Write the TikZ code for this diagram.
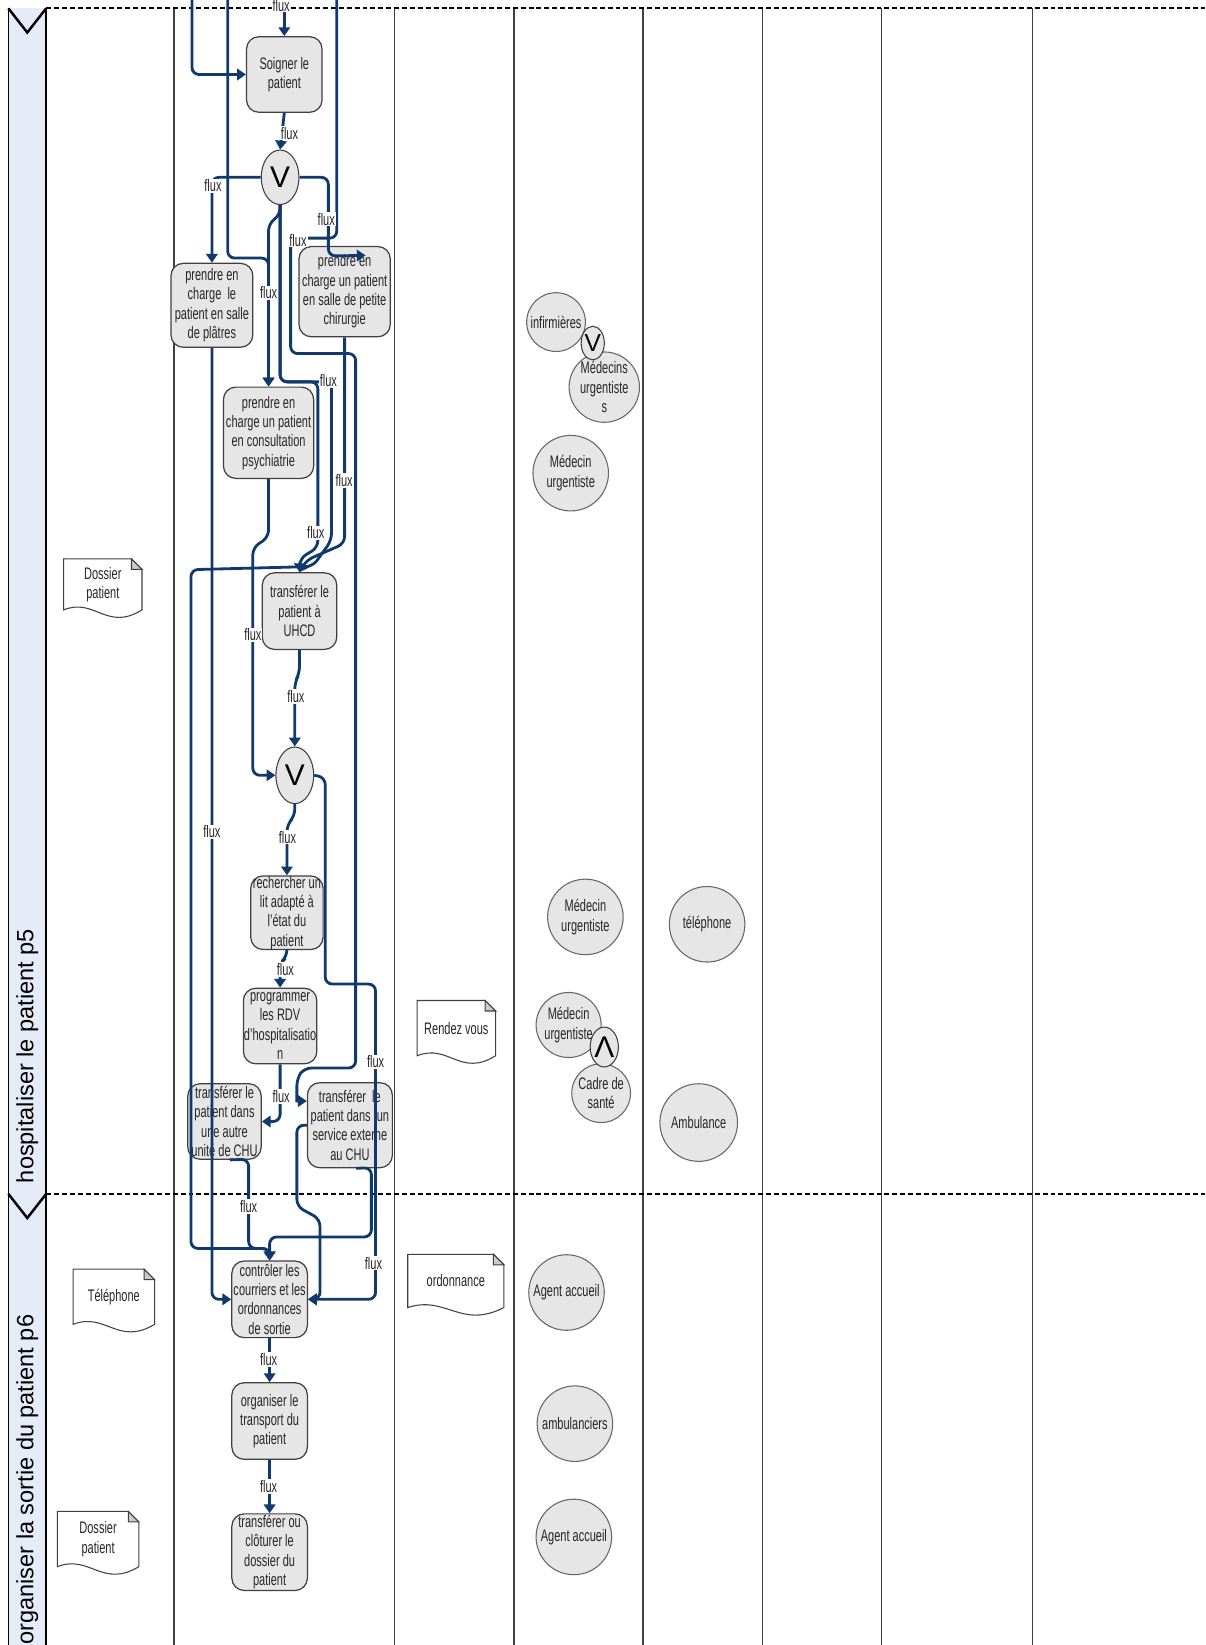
\documentclass[tikz,border=0pt]{standalone}
\usepackage{fontspec}
\setmainfont{Liberation Sans}[FakeStretch=0.66]
\newfontfamily\poolfont{Liberation Sans}
\usetikzlibrary{arrows.meta,calc,shapes.geometric}

\def\unitpx{0.020974cm}
\definecolor{flowblue}{HTML}{10396C}
\definecolor{taskgray}{HTML}{E6E6E6}
\definecolor{bargray}{HTML}{E6ECF7}
\definecolor{edgegray}{HTML}{404040}

\tikzset{
  txt/.style={font=\fontsize{9.5}{11}\selectfont, text=black!85},
  task/.style 2 args={txt, draw=edgegray, line width=0.7pt, fill=taskgray, rounded corners=7pt, align=center, inner sep=0pt, minimum width=#1*\unitpx, minimum height=#2*\unitpx},
  actor/.style={txt, draw=edgegray!80, line width=0.6pt, fill=taskgray, circle, align=center, inner sep=0pt, minimum size=#1*\unitpx},
  gate/.style 2 args={draw=edgegray, line width=0.6pt, fill=taskgray, ellipse, inner sep=0pt, minimum width=#1*\unitpx, minimum height=#2*\unitpx, font=\poolfont\fontsize{17}{17}\selectfont},
  docbox/.style 2 args={txt, align=center, inner sep=0pt, minimum width=#1*\unitpx, minimum height=#2*\unitpx},
  flow/.style={draw=flowblue, line width=1.6pt, rounded corners=4pt, -{Triangle[length=5pt,width=6.5pt]}},
  flux/.style={txt, fill=white, inner sep=0.6pt},
  lane/.style={draw=edgegray, line width=0.8pt},
  poolsep/.style={black, line width=1.1pt, dash pattern=on 2.8pt off 1.7pt},
  poolname/.style={font=\poolfont\fontsize{13.4}{14}\selectfont, rotate=90, anchor=west, inner sep=0pt},
}

\newcommand\docshape[1]{%
  \draw[edgegray, line width=0.6pt] (#1.north west) -- ($(#1.north east)+(-10,0)$) -- ($(#1.north east)+(0,10)$) -- (#1.south east)
    .. controls ($(#1.south west)!0.55!(#1.south east)+(0,21)$) and ($(#1.south west)!0.4!(#1.south east)+(0,-12)$) .. (#1.south west) -- cycle;
  \filldraw[fill=gray!40, draw=edgegray, line width=0.6pt] ($(#1.north east)+(-10,0)$) -- ($(#1.north east)+(0,10)$) -- ($(#1.north east)+(-10,10)$) -- cycle;
}

\begin{document}
\begin{tikzpicture}[x=\unitpx, y=-\unitpx]
\useasboundingbox (0,0) rectangle (1149,1568);

% couloirs
\fill[bargray] (8,8) rectangle (44,1568);
\draw[black, line width=0.8pt] (8,8) -- (8,1568) (44,8) -- (44,1568);
\foreach \lx in {166,376,490,613,727,840,984}
  \draw[lane] (\lx,8) -- (\lx,1568);
\draw[poolsep] (44,8) -- (1149,8);
\draw[poolsep] (44,1138) -- (1149,1138);
\draw[black, line width=1.4pt] (8,8) -- (26,31) -- (44,8);
\draw[black, line width=1.4pt] (8,1138) -- (26,1161) -- (44,1138);
\node[poolname] (pool5) at (26,1128) {hospitaliser le patient p5};
\node[poolname] (pool6) at (26,1568) {organiser la sortie du patient p6};

% activites
\node[task={72}{72}] (soin) at (271,71) {Soigner le\\patient};
\node[gate={36}{52}] (V1) at (267,169) {V};
\node[task={78}{80}] (plat) at (202,291) {prendre en\\charge\ \ le\\patient en salle\\de plâtres};
\node[task={87}{86}] (chir) at (328.5,278) {prendre en\\charge un patient\\en salle de petite\\chirurgie};
\node[task={86}{87}] (psy) at (256,412.5) {prendre en\\charge un patient\\en consultation\\psychiatrie};
\node[task={71}{73}] (uhcd) at (285.5,582.5) {transférer le\\patient à\\UHCD};
\node[gate={36}{54}] (V2) at (281,739) {V};
\node[task={69}{70}] (rech) at (273.5,870) {rechercher un\\lit adapté à\\l'état du\\patient};
\node[task={70}{72}] (prog) at (267,978) {programmer\\les RDV\\d'hospitalisatio\\n};
\node[task={70}{72}] (unit) at (214,1069) {transférer le\\patient dans\\une autre\\unité de CHU};
\node[task={81}{81}] (ext) at (333.5,1072.5) {transférer\ \ le\\patient dans\ \ un\\service externe\\au CHU};
\node[task={72}{73}] (contr) at (257,1238.5) {contrôler les\\courriers et les\\ordonnances\\de sortie};
\node[task={72}{73}] (org) at (257,1354.5) {organiser le\\transport du\\patient};
\node[task={72}{73}] (clot) at (257,1479.5) {transférer ou\\clôturer le\\dossier du\\patient};

% acteurs
\node[actor=56] (inf) at (530,307) {infirmières};
\node[actor=56] (medS) at (576,369) {Médecins\\urgentiste\\s};
\node[gate={22}{32}, font=\poolfont\fontsize{14}{14}\selectfont] (V3) at (565,327) {V};
\node[actor=72] (med1) at (544,451) {Médecin\\urgentiste};
\node[actor=72] (med2) at (558,874) {Médecin\\urgentiste};
\node[actor=72] (tel) at (674,881) {téléphone};
\node[actor=62] (med3) at (542,977) {Médecin\\urgentiste};
\node[actor=56] (cadre) at (573,1042) {Cadre de\\santé};
\node[gate={26}{38}] (and1) at (576,998) {Λ};
\node[actor=74] (amb) at (666,1070) {Ambulance};
\node[actor=72] (acc1) at (540,1232) {Agent accueil};
\node[actor=72] (ambu) at (548,1357) {ambulanciers};
\node[actor=72] (acc2) at (547,1465) {Agent accueil};

% documents
\node[docbox={74}{48}] (dos1) at (98,557) {Dossier\\patient};
\docshape{dos1}
\node[docbox={74}{52}] (rdv) at (435,980) {Rendez vous};
\docshape{rdv}
\node[docbox={91}{50}] (ordo) at (434.5,1221) {ordonnance};
\docshape{ordo}
\node[docbox={77}{52}] (tele) at (108.5,1236) {Téléphone};
\docshape{tele}
\node[docbox={77}{52}] (dos2) at (93.5,1467) {Dossier\\patient};
\docshape{dos2}

% flux
\coordinate (inSoin) at (271,0);
\coordinate (inA) at (183,0);
\coordinate (inB) at (217,0);
\coordinate (inC) at (321,0);

\draw[flow] (inSoin) -- (soin.north);
\draw[flow] (inA) |- (soin.west);
\draw[flow] (inB) -- (217,246) -- (256,246) -- (psy.north);
\draw[flow] (inC) -- (321,227) -- (277,227) -- (277,337) -- (339,337) -- (339,1018) -- (290,1018) -- (283,1028) [sharp corners] -- (283,1049.5) -- ($(ext.west)+(0,-23)$);
\draw[flow] (soin.south) -- (V1.north);
\draw[flow] (V1.west) -| (plat.north);
\draw[flow] (V1.east) -| (313,244) -- ($(chir.north)+(20,9)$);
\draw[flow] (V1.south) -- (267,205) -- (256,213) -- (psy.north);
\draw[flow] (V1.south) -- (267,364) -- (303,364) -- (303,522) -- (286,532) -- (uhcd.north);
\draw[flow] (V1.south) -- (267,364) -- (316,364) -- (316,515) -- (298,540) -- (182,543) -- (182,1190) -- (257,1190) [sharp corners] -- (contr.north);
\draw[flow] (chir.south) -- (328.5,518) -- (292,534) -- (uhcd.north);
\draw[flow] (psy.south) -- (256,512) -- (241,522) |- (V2.west);
\draw[flow] (uhcd.south) -- (285.5,642) -- (281,650) -- (V2.north);
\draw[flow] (V2.south) -- (281,778) -- (273.5,786) -- (rech.north);
\draw[flow] (V2.east) -- (310,741) -- (310,938) -- (358,938) |- (contr.east);
\draw[flow] (rech.south) -- (273.5,912) -- (267,918) -- (prog.north);
\draw[flow] (prog.south) |- (unit.east);
\draw[flow] ($(unit.south)+(5,0)$) -- (237,1105) -- (237,1190) -- (257,1190) [sharp corners] -- (contr.north);
\draw[flow] (plat.south) |- (contr.west);
\draw[flow] ($(ext.south)+(6,0)$) -- (354,1113) -- (354,1179) -- (257,1179) [sharp corners] -- (contr.north);
\draw[flow] (ext.west) -- (283,1072.5) -- (283,1150) -- (305,1162) -- (305,1238.5) [sharp corners] -- (contr.east);
\draw[flow] (contr.south) -- (org.north);
\draw[flow] (org.south) -- (clot.north);

\node[flux] (l1) at (268,5) {flux};
\node[flux] (l2) at (276,127) {flux};
\node[flux] (l3) at (203,177) {flux};
\node[flux] (l4) at (311,209) {flux};
\node[flux] (l5) at (284,229) {flux};
\node[flux] (l6) at (256,279) {flux};
\node[flux] (l7) at (313,363) {flux};
\node[flux] (l8) at (328,458) {flux};
\node[flux] (l9) at (301,508) {flux};
\node[flux] (l10) at (241,605) {flux};
\node[flux] (l11) at (282,664) {flux};
\node[flux] (l12) at (202,793) {flux};
\node[flux] (l13) at (274,798) {flux};
\node[flux] (l14) at (272,924) {flux};
\node[flux] (l15) at (358,1012) {flux};
\node[flux] (l16) at (268,1045) {flux};
\node[flux] (l17) at (237,1150) {flux};
\node[flux] (l18) at (356,1204) {flux};
\node[flux] (l19) at (256,1296) {flux};
\node[flux] (l20) at (256,1417) {flux};
\end{tikzpicture}
\end{document}
